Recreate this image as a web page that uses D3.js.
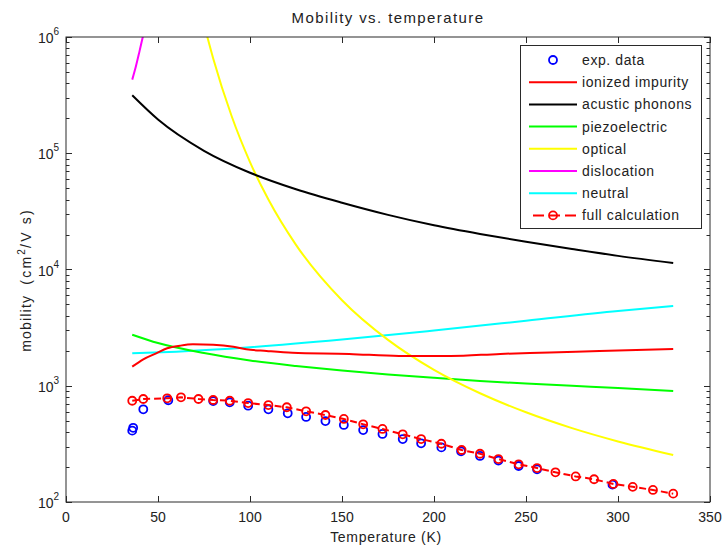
<!DOCTYPE html>
<html>
<head>
<meta charset="utf-8">
<script src="https://cdn.jsdelivr.net/npm/d3@7"></script>
<style>
  html, body { margin: 0; padding: 0; background: #fff; }
  svg text { font-family: "Liberation Sans", Arial, Helvetica, sans-serif; fill: #222; }
</style>
</head>
<body>
<svg id="chart" width="725" height="549"></svg>
<script>
// Temperature axis ticks and mobility decades
const xTicks = [0, 50, 100, 150, 200, 250, 300, 350];
const yDecades = [2, 3, 4, 5, 6];

// Measured mobility (cm^2/V s)
const expT   = [36.5, 36, 42, 55.6, 80, 89, 99, 110, 120.5, 130.5, 141, 151, 161.5, 172, 183, 193, 204, 214.7, 225, 235, 246, 256, 297];
const expMu  = [435, 411, 627, 750, 739, 720, 674, 627, 579, 539, 497, 460, 416, 385, 348, 320, 295, 273, 249, 227, 204, 191, 141];

// Full calculation
const fullT  = [36, 42, 55, 62.5, 72, 80, 89, 99, 110, 120, 130.5, 141, 151, 161.5, 172, 183, 193, 204, 215, 225, 235, 246, 256, 266, 277, 287, 297.5, 308, 319, 330];
const fullMu = [743, 769, 780, 795, 769, 754, 743, 710, 682, 653, 603, 560, 518, 466, 425, 382, 348, 317, 280, 260, 234, 211, 196, 180, 166, 157, 143, 135, 127, 118];

// Individual scattering mechanisms
const ionT   = [36, 42, 49, 55, 62, 69, 80, 91, 98, 109, 123, 154, 181, 209, 236, 263, 290, 330];
const ionMu  = [1459, 1689, 1901, 2099, 2211, 2271, 2254, 2167, 2058, 1991, 1924, 1880, 1802, 1802, 1880, 1930, 1990, 2070];

const acT    = [36, 50, 75, 100, 125, 150, 175, 200, 225, 250, 275, 300, 330];
const acMu   = [315000, 195000, 105000, 68000, 49000, 37500, 29500, 24000, 20200, 17300, 15000, 13100, 11400];

const pzT    = [36, 50, 75, 100, 125, 150, 175, 200, 225, 250, 275, 300, 330];
const pzMu   = [2750, 2330, 1910, 1650, 1480, 1350, 1250, 1170, 1100, 1045, 998, 955, 900];

const opT    = [75, 80, 90, 100, 110, 125, 150, 175, 200, 225, 250, 275, 300, 330];
const opMu   = [1290000, 654000, 209000, 84000, 40000, 16300, 5440, 2480, 1370, 862, 591, 432, 332, 254];

const disT   = [36, 38, 40, 42, 45];
const disMu  = [430000, 560000, 760000, 1040000, 1500000];

const neuT   = [36, 60, 100, 150, 200, 250, 300, 330];
const neuMu  = [1900, 1965, 2145, 2496, 2988, 3620, 4393, 4850];

const legendLabels = ["exp. data", "ionized impurity", "acustic phonons", "piezoelectric", "optical", "dislocation", "neutral", "full calculation"];

const svg = d3.select("#chart");
const L = 66, R = 710, T = 37, B = 502;

const x = d3.scaleLinear().domain([0, 350]).range([L, R]);
const y = d3.scaleLog().domain([100, 1e6]).range([B, T]);

svg.append("defs").append("clipPath").attr("id", "plotclip")
  .append("rect").attr("x", L).attr("y", T).attr("width", R - L).attr("height", B - T);

const plot = svg.append("g").attr("clip-path", "url(#plotclip)");

const zip = (a, b) => a.map((v, i) => [v, b[i]]);
const line = d3.line().x(d => x(d[0])).y(d => y(d[1])).curve(d3.curveMonotoneX);

const curves = [
  { T: neuT, mu: neuMu, color: "#00ffff" },
  { T: pzT,  mu: pzMu,  color: "#00ff00" },
  { T: opT,  mu: opMu,  color: "#ffff00" },
  { T: disT, mu: disMu, color: "#ff00ff" },
  { T: acT,  mu: acMu,  color: "#000000" },
  { T: ionT, mu: ionMu, color: "#ff0000" }
];
curves.forEach(c => {
  plot.append("path").datum(zip(c.T, c.mu))
    .attr("d", line).attr("fill", "none")
    .attr("stroke", c.color).attr("stroke-width", 2);
});

// measured points
plot.selectAll("circle.exp").data(zip(expT, expMu)).enter().append("circle")
  .attr("class", "exp")
  .attr("cx", d => x(d[0])).attr("cy", d => y(d[1])).attr("r", 4)
  .attr("fill", "none").attr("stroke", "#0000ff").attr("stroke-width", 1.8);

// full calculation: dashed line with circle markers
const lin = d3.line().x(d => x(d[0])).y(d => y(d[1]));
plot.append("path").datum(zip(fullT, fullMu))
  .attr("d", lin).attr("fill", "none")
  .attr("stroke", "#ff0000").attr("stroke-width", 2).attr("stroke-dasharray", "7,4");
plot.selectAll("circle.full").data(zip(fullT, fullMu)).enter().append("circle")
  .attr("class", "full")
  .attr("cx", d => x(d[0])).attr("cy", d => y(d[1])).attr("r", 4)
  .attr("fill", "none").attr("stroke", "#ff0000").attr("stroke-width", 1.8);

// axes box
const axisColor = "#2a2a2a";
svg.append("rect").attr("x", L).attr("y", T).attr("width", R - L).attr("height", B - T)
  .attr("fill", "none").attr("stroke", axisColor).attr("stroke-width", 1);

const axG = svg.append("g").attr("stroke", axisColor).attr("stroke-width", 1);
xTicks.forEach(t => {
  const px = Math.round(x(t)) + 0.5;
  axG.append("line").attr("x1", px).attr("x2", px).attr("y1", B).attr("y2", B - 6);
  axG.append("line").attr("x1", px).attr("x2", px).attr("y1", T).attr("y2", T + 6);
});
yDecades.forEach((e, i) => {
  const py = Math.round(y(Math.pow(10, e))) + 0.5;
  axG.append("line").attr("x1", L).attr("x2", L + 6).attr("y1", py).attr("y2", py);
  axG.append("line").attr("x1", R).attr("x2", R - 6).attr("y1", py).attr("y2", py);
  if (i < yDecades.length - 1) {
    for (let m = 2; m <= 9; m++) {
      const my = Math.round(y(m * Math.pow(10, e))) + 0.5;
      axG.append("line").attr("x1", L).attr("x2", L + 3.5).attr("y1", my).attr("y2", my);
      axG.append("line").attr("x1", R).attr("x2", R - 3.5).attr("y1", my).attr("y2", my);
    }
  }
});

// tick labels
svg.append("g").selectAll("text").data(xTicks).enter().append("text")
  .attr("x", d => x(d)).attr("y", 522)
  .attr("text-anchor", "middle").attr("font-size", 14).text(d => d);

const yl = svg.append("g").selectAll("text").data(yDecades).enter().append("text")
  .attr("x", 38).attr("y", d => y(Math.pow(10, d)) + 6)
  .attr("text-anchor", "start").attr("font-size", 14);
yl.append("tspan").text("10");
yl.append("tspan").attr("dy", -8).attr("font-size", 10).text(d => d);

// titles
svg.append("text").attr("x", 388).attr("y", 23).attr("text-anchor", "middle")
  .attr("font-size", 15).attr("letter-spacing", 1.4).text("Mobility vs. temperature");
svg.append("text").attr("x", 386).attr("y", 542).attr("text-anchor", "middle")
  .attr("font-size", 14).attr("letter-spacing", 0.7).text("Temperature (K)");
const ylab = svg.append("text").attr("transform", "translate(31,280) rotate(-90)")
  .attr("text-anchor", "middle").attr("font-size", 14).attr("letter-spacing", 1.2)
  .attr("xml:space", "preserve").style("white-space", "pre");
ylab.append("tspan").text("mobility  ");
ylab.append("tspan").attr("letter-spacing", 2.2).text("(cm");
ylab.append("tspan").attr("dy", -6).attr("font-size", 10).text("2");
ylab.append("tspan").attr("dy", 6).attr("letter-spacing", 2.2).text("/V s)");

// legend
const lg = svg.append("g");
lg.append("rect").attr("x", 520.5).attr("y", 45.5).attr("width", 181).attr("height", 183)
  .attr("fill", "#fff").attr("stroke", axisColor).attr("stroke-width", 1);
const legendStyles = [
  { color: "#0000ff", kind: "marker" },
  { color: "#ff0000", kind: "line" },
  { color: "#000000", kind: "line" },
  { color: "#00ff00", kind: "line" },
  { color: "#ffff00", kind: "line" },
  { color: "#ff00ff", kind: "line" },
  { color: "#00ffff", kind: "line" },
  { color: "#ff0000", kind: "both" }
];
legendLabels.forEach((lab, i) => {
  const cy = 60 + i * 22.2;
  const s = legendStyles[i];
  if (s.kind === "line") {
    lg.append("line").attr("x1", 529).attr("x2", 577).attr("y1", cy).attr("y2", cy)
      .attr("stroke", s.color).attr("stroke-width", 2);
  }
  if (s.kind === "both") {
    lg.append("line").attr("x1", 533).attr("x2", 577).attr("y1", cy).attr("y2", cy)
      .attr("stroke", s.color).attr("stroke-width", 2).attr("stroke-dasharray", "11,5");
  }
  if (s.kind !== "line") {
    lg.append("circle").attr("cx", 553).attr("cy", cy).attr("r", 4)
      .attr("fill", "none").attr("stroke", s.color).attr("stroke-width", 1.8);
  }
  lg.append("text").attr("x", 582).attr("y", cy + 5).attr("font-size", 14)
    .attr("letter-spacing", 0.6).text(lab);
});
</script>
</body>
</html>
